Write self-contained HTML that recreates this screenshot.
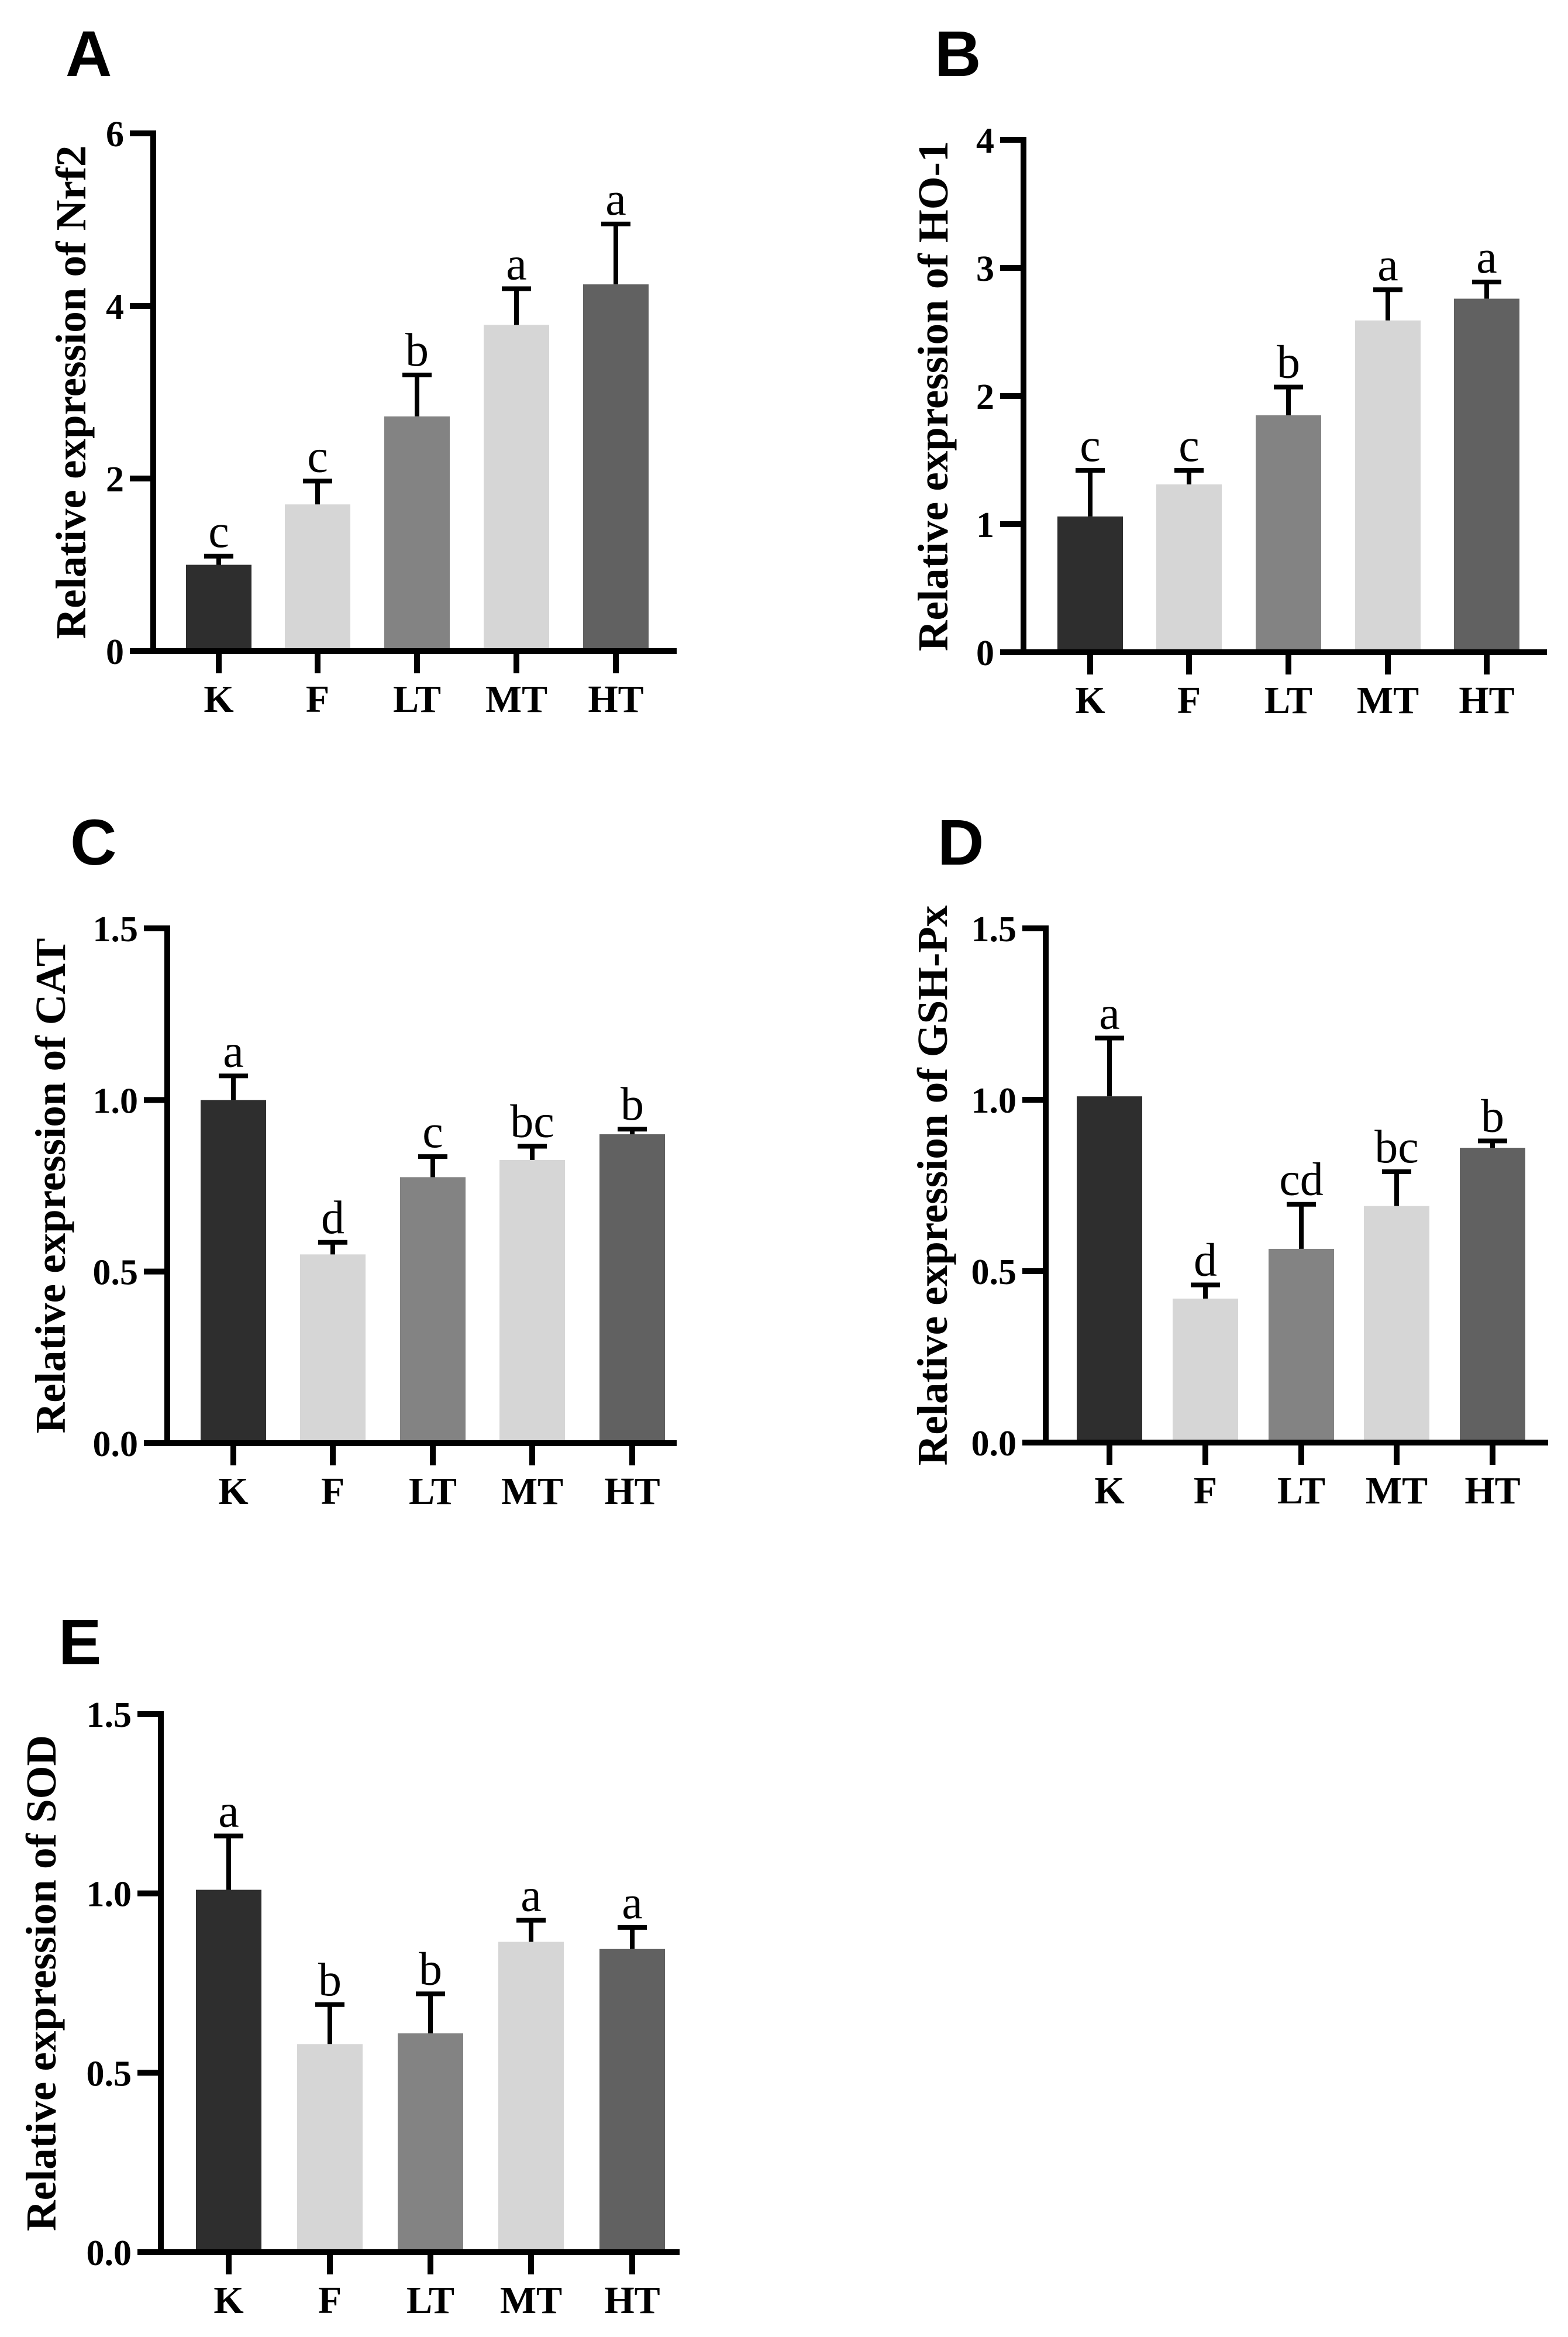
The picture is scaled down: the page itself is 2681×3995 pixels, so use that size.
<!DOCTYPE html>
<html><head><meta charset="utf-8"><style>
html,body{margin:0;padding:0;background:#fff}
svg{display:block}
</style></head><body>
<svg id="fig" width="2681" height="3995" viewBox="0 0 2681 3995" xmlns="http://www.w3.org/2000/svg"></svg>
<script>
const categories = ["K","F","LT","MT","HT"];
const barColors = ["#2e2e2e","#d6d6d6","#838383","#d6d6d6","#616161"];
const nrf2Means = [1.0,1.7,2.72,3.78,4.25];
const nrf2Upper = [1.1,1.97,3.2,4.2,4.95];
const nrf2Letters = ["c","c","b","a","a"];
const nrf2Ticks = ["0","2","4","6"];
const ho1Means = [1.06,1.31,1.85,2.59,2.76];
const ho1Upper = [1.42,1.42,2.07,2.83,2.89];
const ho1Letters = ["c","c","b","a","a"];
const ho1Ticks = ["0","1","2","3","4"];
const catMeans = [1.0,0.55,0.775,0.825,0.90];
const catUpper = [1.07,0.585,0.835,0.865,0.915];
const catLetters = ["a","d","c","bc","b"];
const catTicks = ["0.0","0.5","1.0","1.5"];
const gshMeans = [1.01,0.42,0.565,0.69,0.86];
const gshUpper = [1.18,0.46,0.695,0.79,0.88];
const gshLetters = ["a","d","cd","bc","b"];
const gshTicks = ["0.0","0.5","1.0","1.5"];
const sodMeans = [1.01,0.58,0.61,0.865,0.845];
const sodUpper = [1.16,0.69,0.72,0.925,0.905];
const sodLetters = ["a","b","b","a","a"];
const sodTicks = ["0.0","0.5","1.0","1.5"];

const NS="http://www.w3.org/2000/svg";
const svg=document.getElementById('fig');
function mk(tag,attrs,parent){const e=document.createElementNS(NS,tag);for(const k in attrs)e.setAttribute(k,attrs[k]);(parent||svg).appendChild(e);return e;}

function panel(cfg){
  const g=mk('g',{});
  
  
  const {x0,y0,yTop,xRight,max,centers}=cfg;
  const ys=v=>y0-(v/max)*(y0-yTop);
  const ticks=cfg.ticks;
  cfg.means.forEach((v,i)=>{
    const cx=centers[i];
    const r=mk('rect',{x:cx-56,y:ys(v),width:112,height:y0-ys(v),fill:barColors[i]},g);
    
    
    const up=ys(cfg.upper[i]);
    const eb=mk('path',{d:`M${cx},${ys(v)}V${up}M${cx-25},${up}H${cx+25}`,stroke:'#000','stroke-width':8,fill:'none'},g);
    
    
    const t=mk('text',{x:cx,y:up-16,'text-anchor':'middle','font-family':'Liberation Serif, serif','font-size':80},g);
    t.textContent=cfg.letters[i];
    
    
    const tk=mk('line',{x1:cx,y1:y0,x2:cx,y2:y0+38,stroke:'#000','stroke-width':10},g);
    
    
    const lb=mk('text',{x:cx,y:y0+104,'text-anchor':'middle','font-family':'Liberation Serif, serif','font-weight':'bold','font-size':66},g);
    lb.textContent=categories[i];
    
    
  });
  const ax=mk('path',{d:`M${x0-40},${yTop}H${x0}V${y0}H${xRight}M${x0-40},${y0}H${x0}`,stroke:'#000','stroke-width':10,fill:'none','stroke-linejoin':'miter'},g);
  
  
  ticks.forEach((lab,i)=>{
    const v=max*i/(ticks.length-1);
    const y=ys(v);
    const tl=mk('line',{x1:x0-40,y1:y,x2:x0,y2:y,stroke:'#000','stroke-width':10},g);
    
    
    const t=mk('text',{x:x0-50,y:y+22,'text-anchor':'end','font-family':'Liberation Serif, serif','font-weight':'bold','font-size':62},g);
    t.textContent=lab;
    
    
  });
  const my=(y0+yTop)/2;
  const yt=mk('text',{x:0,y:0,transform:`translate(${cfg.titleX},${my}) rotate(-90)`,'text-anchor':'middle','font-family':'Liberation Serif, serif','font-weight':'bold','font-size':73},g);
  yt.textContent=cfg.title;
  
  
  const pl=mk('text',{x:cfg.lx,y:cfg.ly,'font-family':'Liberation Sans, sans-serif','font-weight':'bold','font-size':110},g);
  pl.textContent=cfg.id;
  
  
}

panel({id:'A',x0:262,y0:1113,yTop:228,xRight:1157,max:6,centers:[374,543,713,883,1053],means:nrf2Means,upper:nrf2Upper,letters:nrf2Letters,ticks:nrf2Ticks,title:'Relative expression of Nrf2',titleX:146,lx:112,ly:130});
panel({id:'B',x0:1750,y0:1115,yTop:239,xRight:2645,max:4,centers:[1864,2033,2203,2373,2542],means:ho1Means,upper:ho1Upper,letters:ho1Letters,ticks:ho1Ticks,title:'Relative expression of HO-1',titleX:1620,lx:1598,ly:130});
panel({id:'C',x0:286,y0:2467,yTop:1587,xRight:1157,max:1.5,centers:[399,569,740,910,1081],means:catMeans,upper:catUpper,letters:catLetters,ticks:catTicks,title:'Relative expression of CAT',titleX:111,lx:120,ly:1478});
panel({id:'D',x0:1788,y0:2466,yTop:1587,xRight:2647,max:1.5,centers:[1897,2061,2225,2388,2552],means:gshMeans,upper:gshUpper,letters:gshLetters,ticks:gshTicks,title:'Relative expression of GSH-Px',titleX:1619,lx:1603,ly:1478});
panel({id:'E',x0:275,y0:3850,yTop:2930,xRight:1162,max:1.5,centers:[391,564,736,908,1081],means:sodMeans,upper:sodUpper,letters:sodLetters,ticks:sodTicks,title:'Relative expression of SOD',titleX:95,lx:100,ly:2845});
</script>
</body></html>
